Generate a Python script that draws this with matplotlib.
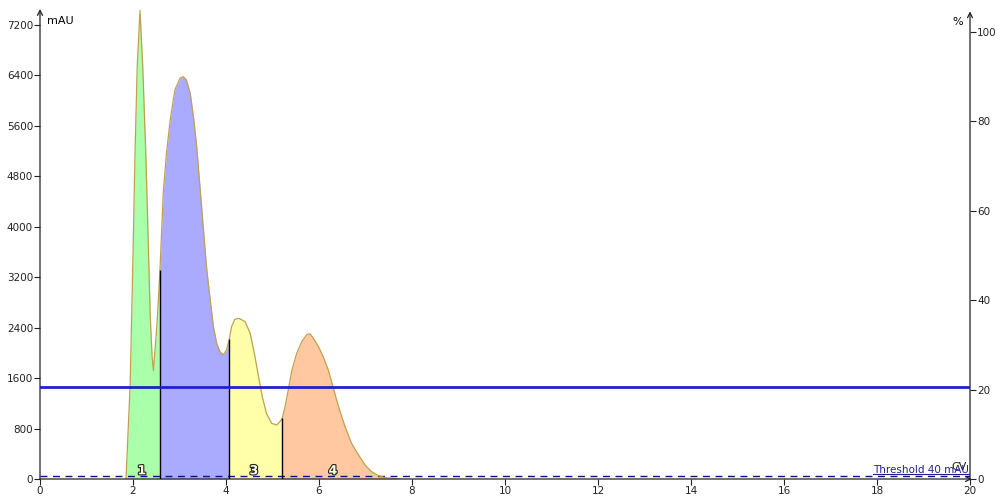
#!/usr/bin/env python3
"""
Chromatogram with fraction fills (mAU vs CV), secondary % axis
"""

import numpy as np
import matplotlib
matplotlib.use('Agg')
import matplotlib.pyplot as plt
import matplotlib.patheffects as pe
from matplotlib.lines import Line2D

# Data
cv = [1.85, 1.94, 2.01, 2.04, 2.09, 2.15, 2.21, 2.28, 2.33, 2.37, 2.41, 2.44,
      2.52, 2.58, 2.62, 2.65, 2.72, 2.80, 2.90, 3.01, 3.08, 3.15, 3.23, 3.30,
      3.37, 3.44, 3.51, 3.58, 3.66, 3.73, 3.80, 3.87, 3.94, 4.01, 4.07,
      4.12, 4.19, 4.28, 4.41, 4.52, 4.61, 4.70, 4.78, 4.87, 4.98, 5.09, 5.16,
      5.21, 5.27, 5.34, 5.41, 5.52, 5.63, 5.74, 5.81, 5.88, 5.99, 6.09, 6.20,
      6.31, 6.42, 6.56, 6.70, 6.85, 6.99, 7.13, 7.28, 7.42, 7.56, 7.74]
mau = [0, 1520, 3900, 5055, 6530, 7430, 6530, 5055, 3700, 2600, 1950, 1720,
       2500, 3314, 4001, 4530, 5165, 5693, 6169, 6354, 6380, 6327, 6116, 5746,
       5270, 4636, 4001, 3367, 2839, 2415, 2151, 2019, 1966, 2046, 2215,
       2415, 2532, 2548, 2495, 2310, 1993, 1622, 1305, 1042, 883, 856, 909,
       962, 1147, 1411, 1702, 1993, 2177, 2294, 2300, 2230, 2098, 1940, 1729,
       1438, 1147, 829, 566, 381, 222, 116, 52, 21, 11, 0]

fraction_edges = [1.85, 2.58, 4.07, 5.21, 7.74]
fraction_colors = ['#aaffaa', '#aaaaff', '#ffffaa', '#ffc8a0']
fraction_labels = ['1', '', '3', '4']
label_x = [2.19, 3.3, 4.60, 6.30]

threshold_mau = 40
level_line = 1460

x_ticks = np.arange(0, 21, 2)
left_ticks = np.arange(0, 7201, 800)
right_ticks = np.arange(0, 101, 20)

LINE_COL = '#c0a050'
FS = 7.5

fig = plt.figure(figsize=(10, 5), dpi=100)
ax = fig.add_axes([0.040, 0.042, 0.930, 0.940])
ax2 = ax.twinx()

x = np.array(cv)
y = np.array(mau)

# fractions
for i in range(len(fraction_colors)):
    lo, hi = fraction_edges[i], fraction_edges[i + 1]
    m = (x >= lo) & (x <= hi)
    ax.fill_between(x[m], 0, y[m], color=fraction_colors[i], lw=0, zorder=1)
    if fraction_labels[i]:
        ax.text(label_x[i], 130, fraction_labels[i], ha='center', va='center',
                fontsize=9, fontweight='bold', color='#ffffe0', zorder=5,
                path_effects=[pe.withStroke(linewidth=1.6, foreground='#222222')])

ax.plot(x, y, color=LINE_COL, lw=0.9, zorder=3)

# fraction separators
inner = fraction_edges[1:-1]
ax.vlines(inner, 0, np.interp(inner, x, y), color='black', lw=1.0, zorder=4)

# threshold + level line
ax.axhline(threshold_mau, color='#101080', lw=1.0, ls=(0, (5, 4)), zorder=2)
ax.axhline(level_line, color='#2020d0', lw=2.0, zorder=4)

ax.set_xlim(0, 20)
ax.set_ylim(0, 7453)
ax2.set_ylim(0, 105.1)

ax.set_xticks(x_ticks)
ax.set_xticklabels([str(v) for v in x_ticks])
ax.set_yticks(left_ticks)
ax.set_yticklabels([str(v) for v in left_ticks])
ax2.set_yticks(right_ticks)
ax2.set_yticklabels([str(v) for v in right_ticks])

for a in (ax, ax2):
    for s in a.spines.values():
        s.set_visible(False)
    a.tick_params(labelsize=FS, length=4, width=0.8, pad=1, direction='out', colors='#222222')

# axes lines with open arrows
arrow = dict(arrowstyle='->', lw=0.9, color='#222222', shrinkA=0, shrinkB=0,
             mutation_scale=9)
ax.annotate('', xy=(0, 1), xytext=(0, 0), xycoords='axes fraction', arrowprops=arrow)
ax.annotate('', xy=(1.002, 0), xytext=(0, 0), xycoords='axes fraction', arrowprops=arrow)
ax.annotate('', xy=(1, 0.995), xytext=(1, 0), xycoords='axes fraction', arrowprops=arrow)

ax.text(0.008, 0.975, 'mAU', transform=ax.transAxes, fontsize=FS + 0.5, va='center', ha='left')
ax.text(0.993, 0.972, '%', transform=ax.transAxes, fontsize=FS + 0.5, va='center', ha='right')
ax.text(0.997, 0.026, 'CV', transform=ax.transAxes, fontsize=FS + 0.5, va='center', ha='right',
        color='#222222')

thr = ax.text(0.9985, 0.008, 'Threshold %d mAU' % threshold_mau, transform=ax.transAxes,
              fontsize=FS, va='bottom', ha='right', color='#202090', zorder=6)

# underline the threshold text
fig.canvas.draw()
bb = thr.get_window_extent(renderer=fig.canvas.get_renderer())
W, H = fig.bbox.width, fig.bbox.height
fig.add_artist(Line2D([bb.x0 / W, bb.x1 / W], [(bb.y0 + 1) / H, (bb.y0 + 1) / H],
                      color='#202090', lw=0.8))

fig.savefig('out.png', dpi=100)
